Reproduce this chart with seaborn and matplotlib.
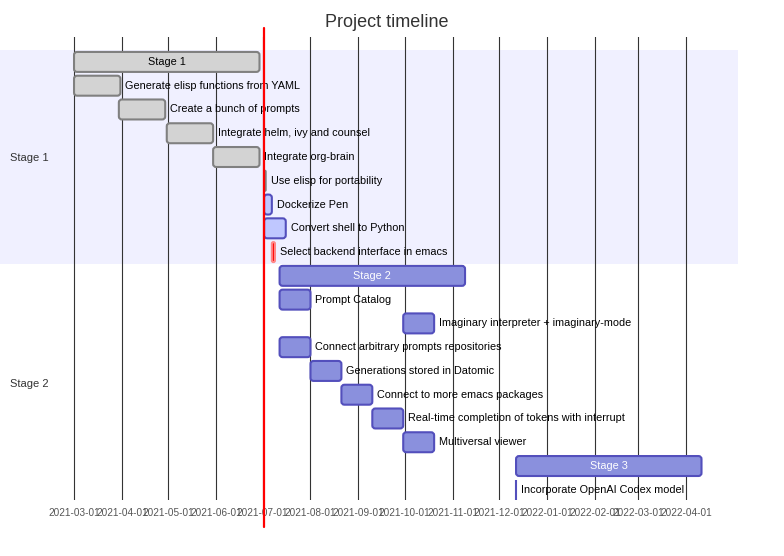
import pandas as pd
import seaborn as sns
import matplotlib
matplotlib.use("Agg")
import matplotlib.pyplot as plt
import matplotlib.dates as mdates
import matplotlib.transforms as mtransforms
from matplotlib.patches import FancyBboxPatch

title = "Project timeline"
section_names = ["Stage 1", "Stage 2"]
sections = ["Stage 1"] * 9 + ["Stage 2"] * 10
tasks = [
    "Stage 1",
    "Generate elisp functions from YAML",
    "Create a bunch of prompts",
    "Integrate helm, ivy and counsel",
    "Integrate org-brain",
    "Use elisp for portability",
    "Dockerize Pen",
    "Convert shell to Python",
    "Select backend interface in emacs",
    "Stage 2",
    "Prompt Catalog",
    "Imaginary interpreter + imaginary-mode",
    "Connect arbitrary prompts repositories",
    "Generations stored in Datomic",
    "Connect to more emacs packages",
    "Real-time completion of tokens with interrupt",
    "Multiversal viewer",
    "Stage 3",
    "Incorporate OpenAI Codex model",
]
starts = [
    "2021-03-01", "2021-03-01", "2021-03-30", "2021-04-30", "2021-05-30",
    "2021-07-02", "2021-07-02", "2021-07-02", "2021-07-07",
    "2021-07-12", "2021-07-12", "2021-09-30", "2021-07-12", "2021-08-01",
    "2021-08-21", "2021-09-10", "2021-09-30", "2021-12-12", "2021-12-12",
]
ends = [
    "2021-06-29", "2021-03-31", "2021-04-29", "2021-05-30", "2021-06-29",
    "2021-07-03", "2021-07-07", "2021-07-16", "2021-07-09",
    "2021-11-09", "2021-08-01", "2021-10-20", "2021-08-01", "2021-08-21",
    "2021-09-10", "2021-09-30", "2021-10-20", "2022-04-11", "2021-12-12",
]
status = ["done"] * 6 + ["active", "active", "crit"] + [""] * 10
today = "2021-07-02"
tick_labels = [
    "2021-03-01", "2021-04-01", "2021-05-01", "2021-06-01", "2021-07-01",
    "2021-08-01", "2021-09-01", "2021-10-01", "2021-11-01", "2021-12-01",
    "2022-01-01", "2022-02-01", "2022-03-01", "2022-04-01",
]

df = pd.DataFrame({"section": sections, "task": tasks,
                   "start": pd.to_datetime(starts), "end": pd.to_datetime(ends),
                   "status": status})
df["row"] = range(len(df))
df["x0"] = mdates.date2num(df["start"])
df["dur"] = mdates.date2num(df["end"]) - df["x0"]

fill = {"done": "#d3d3d3", "active": "#bfc7ff", "crit": "#ff0000", "": "#8a90dd"}
edge = {"done": "#808080", "active": "#534fbc", "crit": "#ff8888", "": "#534fbc"}
inner_text = {"done": "black", "active": "black", "crit": "black", "": "white"}

sns.set_style("white")
plt.rcParams["font.family"] = ["Liberation Sans", "DejaVu Sans"]

fig = plt.figure(figsize=(7.84, 5.56), dpi=100)
ax = fig.add_axes([0, 0.1007, 0.9413, 0.8328])

# section backgrounds and labels
for i, name in enumerate(section_names):
    rows = df.loc[df["section"] == name, "row"]
    if i % 2 == 0:
        ax.axhspan(rows.min() - 0.5, rows.max() + 0.5, color="#f0f0ff", zorder=0, lw=0)
    ax.text(10 / 738, (rows.min() + rows.max()) / 2 + 0.05, name,
            transform=mtransforms.blended_transform_factory(ax.transAxes, ax.transData),
            ha="left", va="center", fontsize=8, color="#333333")

# month grid
tick_pos = mdates.date2num(pd.to_datetime(tick_labels))
ax.vlines(tick_pos, -2, len(df) + 1, color="#333333", lw=0.8, zorder=1)

ax.set_xlim(tick_pos[0] - 47.9, tick_pos[0] + 429.6)
ax.set_ylim(len(df) - 1 + 0.43, -1.05)

# bars with small rounded corners (about 3 px)
bar_h = 0.84
corner = 2.0            # days
aspect = 0.063          # rows per day at this size
for _, r in df.iterrows():
    rs = min(corner, r["dur"] / 2)
    style = f"round,pad=0,rounding_size={rs}" if rs > 0 else "square,pad=0"
    ax.add_patch(FancyBboxPatch((r["x0"], r["row"] - bar_h / 2), r["dur"], bar_h,
                                boxstyle=style, mutation_aspect=aspect,
                                facecolor=fill[r["status"]], edgecolor=edge[r["status"]],
                                linewidth=1.5, zorder=3))

ax.set_xticks(tick_pos)
ax.set_xticklabels(tick_labels, fontsize=7.2, color="#555555")
ax.tick_params(axis="x", length=0, pad=5.5)
ax.set_yticks([])
sns.despine(ax=ax, left=True, bottom=True)

# task labels: inside the bar when they fit, otherwise to the right
fig.canvas.draw()
renderer = fig.canvas.get_renderer()
for _, r in df.iterrows():
    px0 = ax.transData.transform((r["x0"], r["row"]))[0]
    px1 = ax.transData.transform((r["x0"] + r["dur"], r["row"]))[0]
    t = ax.text(r["x0"] + r["dur"] / 2, r["row"], r["task"], fontsize=7.85,
                ha="center", va="center", color=inner_text[r["status"]], zorder=4)
    w = t.get_window_extent(renderer).width
    if w > px1 - px0 - 4:
        t.remove()
        ax.annotate(r["task"], (r["x0"] + r["dur"], r["row"]),
                    xytext=(3.6, 0), textcoords="offset points",
                    fontsize=7.85, ha="left", va="center", color="black", zorder=4)

# today marker
ax.axvline(mdates.date2num(pd.Timestamp(today)), ymin=-0.058, ymax=1.02,
           color="red", lw=1.6, zorder=5, clip_on=False)

fig.text(387 / 784, 1 - 22.5 / 556, title, ha="center", va="center",
         fontsize=13, color="#333333")

fig.savefig("out.png", dpi=100)
